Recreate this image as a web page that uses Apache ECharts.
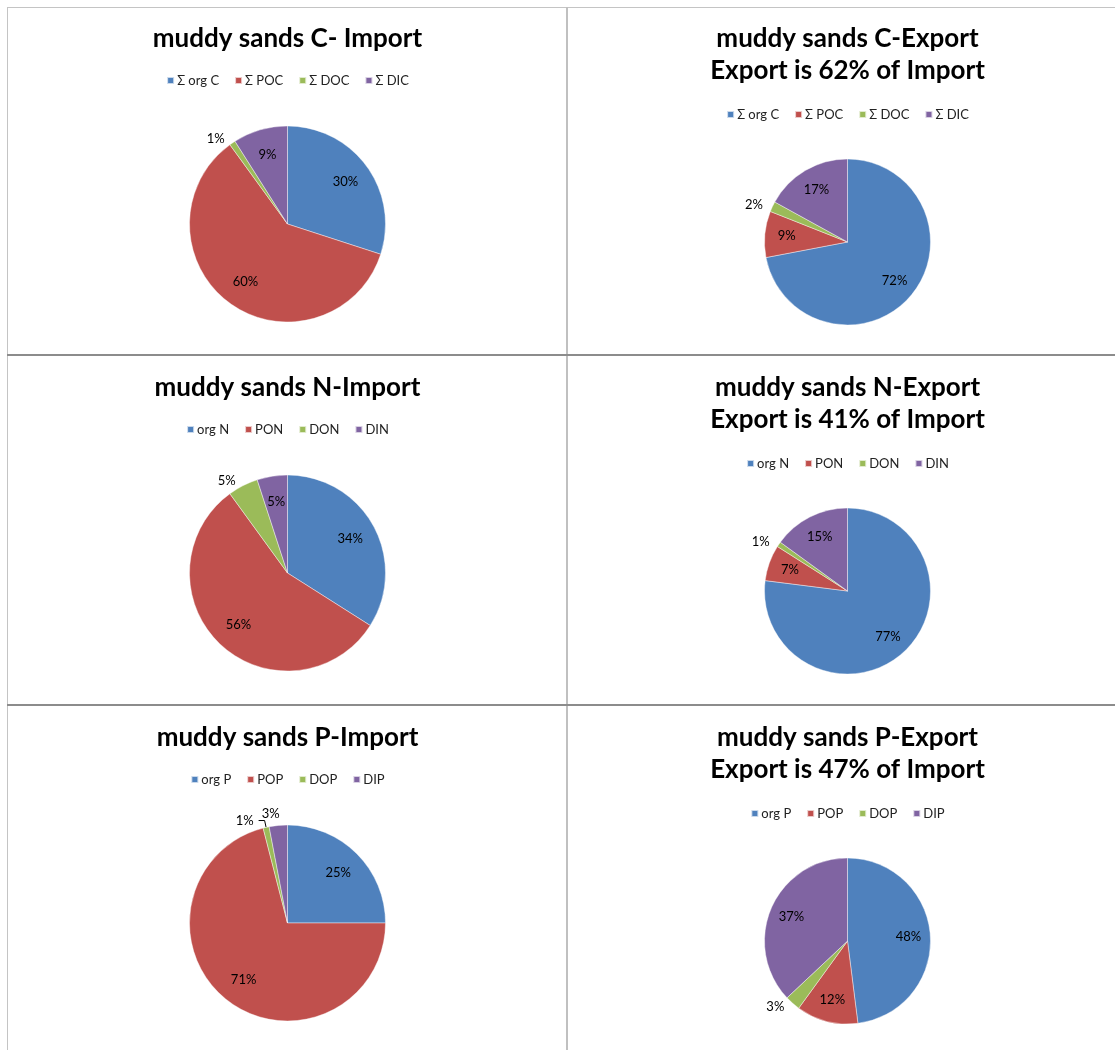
<!DOCTYPE html>
<html>
<head>
<meta charset="utf-8">
<script src="https://cdn.jsdelivr.net/npm/echarts@6/dist/echarts.min.js"></script>
<style>
  html, body { margin: 0; padding: 0; background: #fff; }
  body { width: 1115px; height: 1050px; position: relative; overflow: hidden; }
  .cell { position: absolute; width: 559px; height: 347px; }
  .line { position: absolute; }
</style>
</head>
<body>
<div class="line" style="left:7px;top:7px;width:1108px;height:1px;background:#c4c4c4"></div>
<div class="line" style="left:7px;top:7px;width:1px;height:1043px;background:#c4c4c4"></div>
<div class="line" style="left:566px;top:7px;width:2px;height:1043px;background:#c0c0c0"></div>
<div class="line" style="left:7px;top:354px;width:1108px;height:2px;background:#8c8c8c"></div>
<div class="line" style="left:7px;top:704px;width:1108px;height:2px;background:#8c8c8c"></div>

<div class="cell" id="c1" style="left:8px;top:8px"></div>
<div class="cell" id="c2" style="left:568px;top:8px"></div>
<div class="cell" id="c3" style="left:8px;top:357px"></div>
<div class="cell" id="c4" style="left:568px;top:357px"></div>
<div class="cell" id="c5" style="left:8px;top:707px"></div>
<div class="cell" id="c6" style="left:568px;top:707px"></div>

<script>
// 各组分名称
const cNames = ["Σ org C", "Σ POC", "Σ DOC", "Σ DIC"];
const nNames = ["org N", "PON", "DON", "DIN"];
const pNames = ["org P", "POP", "DOP", "DIP"];

// 百分比
const cImport = [30, 60, 1, 9];
const cExport = [72, 9, 2, 17];
const nImport = [34, 56, 5, 5];
const nExport = [77, 7, 1, 15];
const pImport = [25, 71, 1, 3];
const pExport = [48, 12, 3, 37];

const titles = [
  "muddy sands C- Import",
  "muddy sands C-Export\nExport is 62% of Import",
  "muddy sands N-Import",
  "muddy sands N-Export\nExport is 41% of Import",
  "muddy sands P-Import",
  "muddy sands P-Export\nExport is 47% of Import"
];

const colors = ["#4F81BD", "#C0504D", "#9BBB59", "#8064A2"];
const font = "Lato, 'Liberation Sans', sans-serif";

// outside: 标签放在饼外的序号; leader: 显示引导线的序号; nudge: 需要挪到右上方的标签
const panels = [
  { el: "#c1", names: cNames, values: cImport, title: titles[0], outside: [2], leader: [], nudge: [] },
  { el: "#c2", names: cNames, values: cExport, title: titles[1], outside: [2], leader: [], nudge: [] },
  { el: "#c3", names: nNames, values: nImport, title: titles[2], outside: [2], leader: [], nudge: [] },
  { el: "#c4", names: nNames, values: nExport, title: titles[3], outside: [2], leader: [], nudge: [] },
  { el: "#c5", names: pNames, values: pImport, title: titles[4], outside: [2, 3], leader: [2], nudge: [3] },
  { el: "#c6", names: pNames, values: pExport, title: titles[5], outside: [2], leader: [], nudge: [] }
];

const createPie = (p) => {
  const dom = document.querySelector(p.el);
  if (!dom) {
    return;
  }
  const chart = echarts.init(dom);
  const twoLines = p.title.indexOf("\n") >= 0;
  const r = twoLines ? 83 : 98;
  const cy = twoLines ? 234 : 216;

  const mainData = p.names.map((name, i) => {
    const out = p.outside.includes(i);
    const lead = p.leader.includes(i);
    return {
      name: name,
      value: p.values[i],
      label: { show: out },
      labelLine: lead
        ? { show: true, length: 7, length2: 6 }
        : { show: false, length: 5, length2: 0 }
    };
  });
  // 透明环形系列, 只用来把内部标签放到 0.7r 左右 (类似 Excel)
  const ringData = p.names.map((name, i) => ({
    name: name,
    value: p.values[i],
    label: { show: !p.outside.includes(i) }
  }));

  chart.setOption({
    animation: false,
    color: colors,
    title: {
      text: p.title,
      left: "center",
      top: 10,
      textStyle: {
        fontFamily: font,
        fontWeight: "bold",
        fontSize: 26,
        lineHeight: 32,
        color: "#000"
      }
    },
    legend: {
      top: twoLines ? 95 : 61,
      left: "center",
      icon: "rect",
      itemWidth: 7,
      itemHeight: 7,
      itemGap: 15,
      selectedMode: false,
      data: p.names.map((n, i) => ({ name: n, itemStyle: { color: colors[i] } })),
      textStyle: { fontFamily: font, fontSize: 13, color: "#222", padding: [0, 0, 0, -2] }
    },
    series: [
      {
        type: "pie",
        center: ["50%", cy],
        radius: [0, r],
        startAngle: 90,
        clockwise: true,
        percentPrecision: 0,
        avoidLabelOverlap: false,
        itemStyle: { borderColor: "rgba(255,255,255,0.7)", borderWidth: 0.6 },
        label: {
          position: "outside",
          formatter: "{d}%",
          fontFamily: font,
          fontSize: 13,
          color: "#000"
        },
        labelLine: { lineStyle: { color: "#000", width: 1 }, smooth: false },
        labelLayout: (params) =>
          p.nudge.includes(params.dataIndex) ? { align: "left", dx: -11, dy: -7 } : {},
        emphasis: { disabled: true },
        data: mainData
      },
      {
        type: "pie",
        center: ["50%", cy],
        radius: [r * 0.4, r],
        startAngle: 90,
        clockwise: true,
        percentPrecision: 0,
        silent: true,
        itemStyle: { color: "transparent" },
        label: {
          position: "inside",
          formatter: "{d}%",
          fontFamily: font,
          fontSize: 13,
          color: "#000"
        },
        labelLine: { show: false },
        data: ringData
      }
    ]
  });
  return chart;
};

panels.forEach(createPie);
</script>
</body>
</html>
